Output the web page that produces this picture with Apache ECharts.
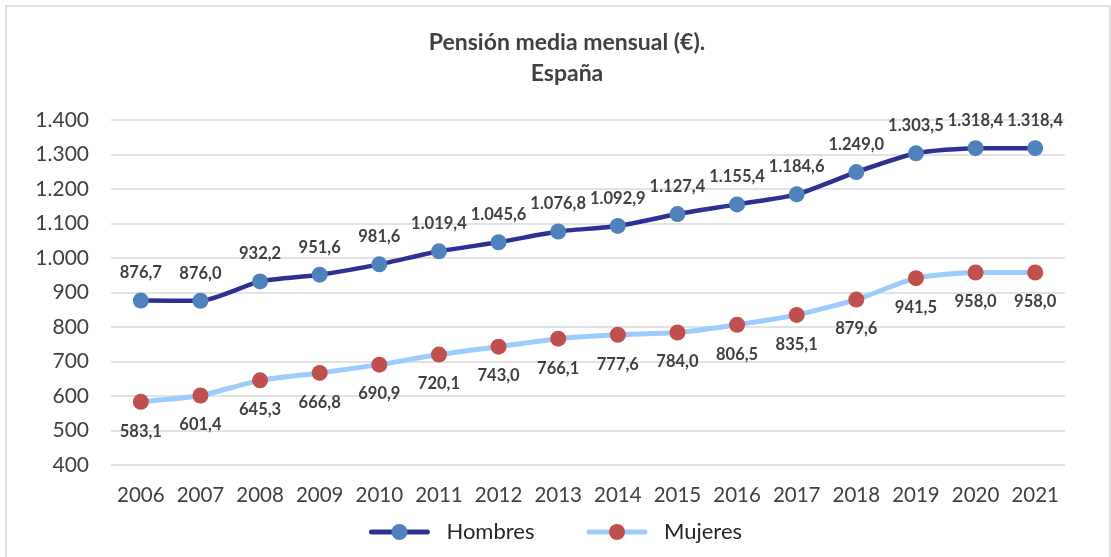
<!DOCTYPE html>
<html>
<head>
<meta charset="utf-8">
<script src="https://cdn.jsdelivr.net/npm/echarts@6/dist/echarts.min.js"></script>
<style>
  html, body { margin: 0; padding: 0; background: #fff; }
  #chart { width: 1111px; height: 557px; }
</style>
</head>
<body>
<div id="chart"></div>
<script>
// datos
const years = ['2006','2007','2008','2009','2010','2011','2012','2013','2014','2015','2016','2017','2018','2019','2020','2021'];
const hombres = [876.7, 876.0, 932.2, 951.6, 981.6, 1019.4, 1045.6, 1076.8, 1092.9, 1127.4, 1155.4, 1184.6, 1249.0, 1303.5, 1318.4, 1318.4];
const mujeres = [583.1, 601.4, 645.3, 666.8, 690.9, 720.1, 743.0, 766.1, 777.6, 784.0, 806.5, 835.1, 879.6, 941.5, 958.0, 958.0];

const FONT = 'Lato, "Open Sans", sans-serif';

// formato español: 1.318,4
function fmtDec(v) {
  const parts = v.toFixed(1).split('.');
  parts[0] = parts[0].replace(/\B(?=(\d{3})+(?!\d))/g, '.');
  return parts.join(',');
}
function fmtInt(v) {
  return String(v).replace(/\B(?=(\d{3})+(?!\d))/g, '.');
}

const chart = echarts.init(document.getElementById('chart'));

const option = {
  backgroundColor: '#fff',
  animation: false,
  graphic: [{
    type: 'rect',
    shape: { x: 6, y: 6, width: 1104, height: 560 },
    style: { fill: 'none', stroke: '#d9d9d9', lineWidth: 1.5 }
  }],
  title: {
    text: 'Pensión media mensual (€).\nEspaña',
    left: 562,
    top: 22,
    textAlign: 'center',
    textStyle: {
      fontFamily: FONT,
      fontSize: 23,
      fontWeight: 'bold',
      color: '#404040',
      lineHeight: 31
    }
  },
  legend: {
    bottom: 9,
    left: 'center',
    itemWidth: 56,
    itemHeight: 20,
    itemGap: 52,
    lineStyle: { width: 5, cap: 'round' },
    textStyle: { fontFamily: FONT, fontSize: 22, color: '#262626', padding: [0, 0, 0, 14] },
    data: ['Hombres', 'Mujeres']
  },
  grid: {
    left: 111,
    right: 46,
    top: 120,
    bottom: 92
  },
  xAxis: {
    type: 'category',
    data: years,
    boundaryGap: true,
    axisLine: { show: false },
    axisTick: { show: false },
    axisLabel: {
      interval: 0,
      hideOverlap: false,
      fontFamily: FONT,
      fontSize: 20.5,
      color: '#404040',
      margin: 20
    }
  },
  yAxis: {
    type: 'value',
    min: 400,
    max: 1400,
    interval: 100,
    axisLine: { show: false },
    axisTick: { show: false },
    axisLabel: {
      fontFamily: FONT,
      fontSize: 21,
      color: '#404040',
      margin: 22,
      formatter: fmtInt
    },
    splitLine: { lineStyle: { color: '#d9d9d9', width: 1.5 } }
  },
  series: [
    {
      name: 'Hombres',
      type: 'line',
      data: hombres,
      smooth: 0.2,
      symbol: 'circle',
      symbolSize: 16,
      lineStyle: { color: '#2e3192', width: 4.5 },
      itemStyle: { color: '#4f81bd' },
      label: {
        show: true,
        position: 'top',
        distance: 11,
        fontFamily: FONT,
        fontSize: 16.5,
        fontWeight: 'bold',
        color: '#404040',
        formatter: p => fmtDec(p.value)
      }
    },
    {
      name: 'Mujeres',
      type: 'line',
      data: mujeres,
      smooth: 0.2,
      symbol: 'circle',
      symbolSize: 16,
      lineStyle: { color: '#9dcbfb', width: 5 },
      itemStyle: { color: '#c0504d' },
      label: {
        show: true,
        position: 'bottom',
        distance: 13,
        fontFamily: FONT,
        fontSize: 16.5,
        fontWeight: 'bold',
        color: '#404040',
        formatter: p => fmtDec(p.value)
      }
    }
  ]
};

chart.setOption(option);
</script>
</body>
</html>
